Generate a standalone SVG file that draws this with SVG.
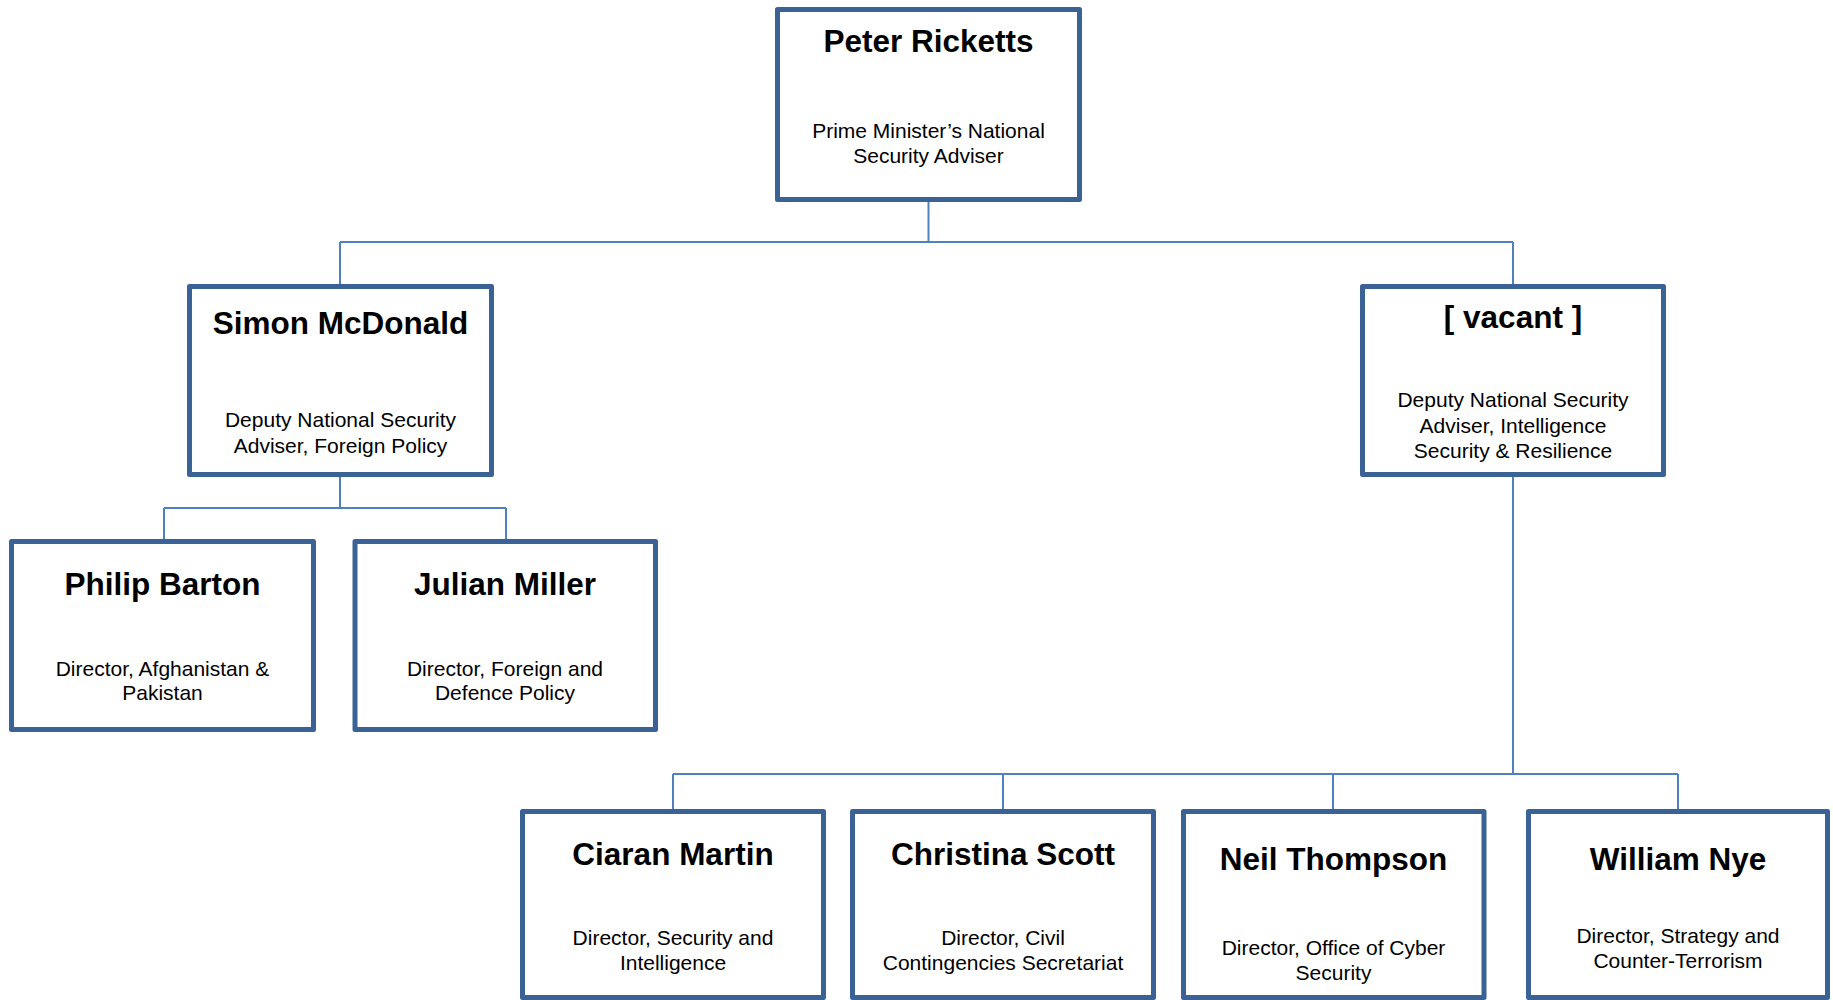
<svg xmlns="http://www.w3.org/2000/svg" width="1833" height="1000" viewBox="0 0 1833 1000">
<style>
.box{fill:#fff;stroke:#3A6294;stroke-width:5;stroke-linejoin:round}
.ln{fill:none;stroke:#4F81BD;stroke-width:2}
.t{font-family:"Liberation Sans",Arial,sans-serif;font-weight:bold;font-size:31.5px;fill:#000;text-anchor:middle}
.s{font-family:"Liberation Sans",Arial,sans-serif;font-size:21px;fill:#000;text-anchor:middle}
</style>
<rect width="1833" height="1000" fill="#fff"/>
<g id="connectors">
<path class="ln" d="M928.5 202V242M340 242H1513M340 242V284M1513 242V284"/>
<path class="ln" d="M340 477V508M164 508H506M164 508V539M506 508V539"/>
<path class="ln" d="M1513 477V774M673 774H1678M673 774V809M1003 774V809M1333 774V809M1678 774V809"/>
</g>
<g id="peter-ricketts">
<rect class="box" x="777.5" y="9.5" width="302" height="190"/>
<text class="t" x="928.5" y="52">Peter Ricketts</text>
<text class="s" x="928.5" y="138">Prime Minister’s National</text>
<text class="s" x="928.5" y="163">Security Adviser</text>
</g>
<g id="simon-mcdonald">
<rect class="box" x="189.5" y="286.5" width="302" height="188"/>
<text class="t" x="340.5" y="334">Simon McDonald</text>
<text class="s" x="340.5" y="427">Deputy National Security</text>
<text class="s" x="340.5" y="453">Adviser, Foreign Policy</text>
</g>
<g id="vacant">
<rect class="box" x="1362.5" y="286.5" width="301" height="188"/>
<text class="t" x="1513" y="328">[ vacant ]</text>
<text class="s" x="1513" y="407">Deputy National Security</text>
<text class="s" x="1513" y="433">Adviser, Intelligence</text>
<text class="s" x="1513" y="458">Security &amp; Resilience</text>
</g>
<g id="philip-barton">
<rect class="box" x="11.5" y="541.5" width="302" height="188"/>
<text class="t" x="162.5" y="595">Philip Barton</text>
<text class="s" x="162.5" y="676">Director, Afghanistan &amp;</text>
<text class="s" x="162.5" y="700">Pakistan</text>
</g>
<g id="julian-miller">
<rect class="box" x="355" y="541.5" width="300.5" height="188"/>
<text class="t" x="505" y="595">Julian Miller</text>
<text class="s" x="505" y="676">Director, Foreign and</text>
<text class="s" x="505" y="700">Defence Policy</text>
</g>
<g id="ciaran-martin">
<rect class="box" x="522.5" y="811.5" width="301" height="186"/>
<text class="t" x="673" y="865">Ciaran Martin</text>
<text class="s" x="673" y="945">Director, Security and</text>
<text class="s" x="673" y="970">Intelligence</text>
</g>
<g id="christina-scott">
<rect class="box" x="852.5" y="811.5" width="301" height="186"/>
<text class="t" x="1003" y="865">Christina Scott</text>
<text class="s" x="1003" y="945">Director, Civil</text>
<text class="s" x="1003" y="970">Contingencies Secretariat</text>
</g>
<g id="neil-thompson">
<rect class="box" x="1183.5" y="811.5" width="300.5" height="186"/>
<text class="t" x="1333.5" y="870">Neil Thompson</text>
<text class="s" x="1333.5" y="955">Director, Office of Cyber</text>
<text class="s" x="1333.5" y="980">Security</text>
</g>
<g id="william-nye">
<rect class="box" x="1528.5" y="811.5" width="299" height="186"/>
<text class="t" x="1678" y="870">William Nye</text>
<text class="s" x="1678" y="943">Director, Strategy and</text>
<text class="s" x="1678" y="968">Counter-Terrorism</text>
</g>
</svg>
